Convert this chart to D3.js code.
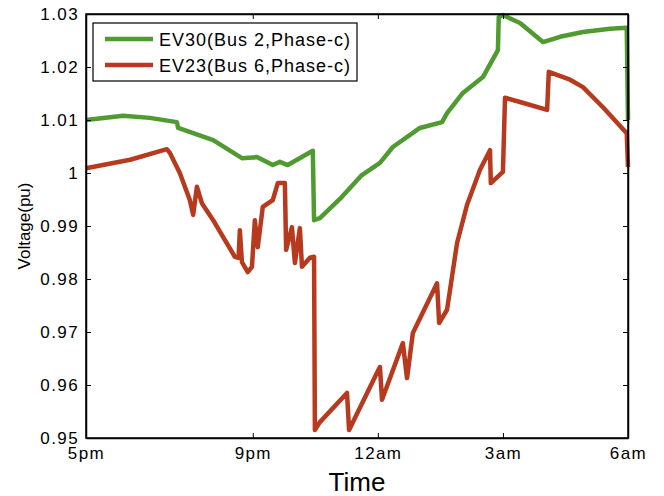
<!DOCTYPE html>
<html>
<head>
<meta charset="utf-8">
<script src="https://cdn.jsdelivr.net/npm/d3@7"></script>
<style>
  body { margin: 0; background: #fff; }
  text { font-family: "Liberation Sans", Arial, sans-serif; fill: #000; }
</style>
</head>
<body>
<script>
// hours after 5pm
var xTicks = [0, 4, 7, 10, 13];
var xTickLabels = ["5pm", "9pm", "12am", "3am", "6am"];
var yTicks = [0.95, 0.96, 0.97, 0.98, 0.99, 1, 1.01, 1.02, 1.03];

var seriesNames = ["EV30(Bus 2,Phase-c)", "EV23(Bus 6,Phase-c)"];
var seriesColors = ["#4f9b32", "#b83a1e"];

var ev30Hours = [0, 0.89, 1.53, 2.18, 2.21, 3.05, 3.74, 4.10, 4.48, 4.65, 4.84, 5.44, 5.47,
  5.61, 6.09, 6.60, 7.05, 7.36, 8.01, 8.54, 8.66, 9.04, 9.52, 9.88, 9.90, 10.0, 10.41,
  10.96, 11.37, 11.92, 12.57, 12.97, 13.0];
var ev30Volts = [1.0100, 1.0108, 1.0104, 1.0096, 1.0085, 1.0062, 1.0028, 1.0030, 1.0015,
  1.0021, 1.0015, 1.0042, 0.9911, 0.9915, 0.9951, 0.9995, 1.0019, 1.0049, 1.0085, 1.0096,
  1.0113, 1.0151, 1.0181, 1.0232, 1.0294, 1.0298, 1.0283, 1.0247, 1.0257, 1.0266, 1.0272,
  1.0274, 1.0100];

var ev23Hours = [0, 1.06, 1.94, 2.01, 2.25, 2.49, 2.57, 2.66, 2.78, 3.05, 3.29, 3.57, 3.66,
  3.69, 3.74, 3.88, 3.98, 4.05, 4.12, 4.24, 4.48, 4.60, 4.77, 4.80, 4.94, 5.01, 5.13, 5.18,
  5.37, 5.47, 5.49, 5.61, 6.26, 6.31, 6.98, 7.05, 7.10, 7.60, 7.70, 7.84, 8.42, 8.47, 8.66,
  8.90, 9.14, 9.45, 9.69, 9.71, 10.0, 10.05, 10.41, 11.06, 11.10, 11.61, 11.92, 12.40, 12.97, 13.0];
var ev23Volts = [1.0009, 1.0025, 1.0045, 1.0038, 1.0000, 0.9949, 0.9921, 0.9974, 0.9943,
  0.9911, 0.9879, 0.9842, 0.9840, 0.9892, 0.9832, 0.9813, 0.9823, 0.9911, 0.9860, 0.9936,
  0.9949, 0.9981, 0.9981, 0.9855, 0.9898, 0.9830, 0.9896, 0.9823, 0.9840, 0.9842, 0.9515,
  0.9530, 0.9585, 0.9515, 0.9623, 0.9634, 0.9572, 0.9679, 0.9613, 0.9698, 0.9792, 0.9717,
  0.9742, 0.9868, 0.9940, 1.0006, 1.0043, 0.9981, 1.0002, 1.0142, 1.0134, 1.0119, 1.0191,
  1.0176, 1.0162, 1.0124, 1.0075, 1.0011];

var width = 664, height = 496;
var margin = {top: 14, right: 36, bottom: 58, left: 86};
var w = width - margin.left - margin.right;
var h = height - margin.top - margin.bottom;

var svg = d3.select("body").append("svg")
  .attr("width", width)
  .attr("height", height);

var g = svg.append("g")
  .attr("transform", "translate(" + margin.left + "," + margin.top + ")");

var x = d3.scaleLinear().domain([0, 13]).range([0, w]);
var y = d3.scaleLinear().domain([0.95, 1.03]).range([h, 0]);

// lines
var series = [
  d3.zip(ev30Hours, ev30Volts),
  d3.zip(ev23Hours, ev23Volts)
];
var line = d3.line()
  .x(function(d) { return x(d[0]); })
  .y(function(d) { return y(d[1]); });

g.selectAll("path.series")
  .data(series)
  .enter()
  .append("path")
  .attr("class", "series")
  .attr("d", line)
  .attr("fill", "none")
  .attr("stroke", function(d, i) { return seriesColors[i]; })
  .attr("stroke-width", 4.5)
  .attr("stroke-linejoin", "round")
  .attr("stroke-linecap", "butt");

// axes, ticks inward on all sides
var xAxis = d3.axisBottom(x).tickValues(xTicks)
  .tickFormat(function(d, i) { return xTickLabels[i]; })
  .tickSizeInner(-5).tickSizeOuter(0).tickPadding(9);
var yAxis = d3.axisLeft(y).tickValues(yTicks)
  .tickFormat(function(d) { return d === 1 ? "1" : d3.format(".2f")(d); })
  .tickSizeInner(-5).tickSizeOuter(0).tickPadding(7);

var gx = g.append("g").attr("transform", "translate(0," + h + ")").call(xAxis);
var gy = g.append("g").call(yAxis);
g.append("g").call(d3.axisTop(x).tickValues(xTicks).tickFormat("").tickSizeInner(-5).tickSizeOuter(0));
g.append("g").attr("transform", "translate(" + w + ",0)")
  .call(d3.axisRight(y).tickValues(yTicks).tickFormat("").tickSizeInner(-5).tickSizeOuter(0));

svg.selectAll(".domain").attr("stroke", "#000").attr("stroke-width", 1.5);
svg.selectAll(".tick line").attr("stroke", "#000");
gx.selectAll("text").style("font-size", "17px").style("letter-spacing", "1.4px");
gy.selectAll("text").style("font-size", "17px").style("letter-spacing", "1.4px");

g.append("rect")
  .attr("width", w).attr("height", h)
  .attr("fill", "none").attr("stroke", "#000").attr("stroke-width", 1.5);

// axis titles
svg.append("text")
  .attr("x", margin.left + w / 2)
  .attr("y", 491)
  .attr("text-anchor", "middle")
  .style("font-size", "26px")
  .text("Time");

svg.append("text")
  .attr("transform", "translate(30," + (margin.top + h / 2) + ") rotate(-90)")
  .attr("text-anchor", "middle")
  .style("font-size", "17px")
  .text("Voltage(pu)");

// legend
var legend = svg.append("g").attr("transform", "translate(93,23)");
legend.append("rect")
  .attr("width", 264).attr("height", 58)
  .attr("fill", "#fff").attr("stroke", "#000").attr("stroke-width", 1.2);
var items = legend.selectAll("g.item")
  .data(seriesNames)
  .enter()
  .append("g")
  .attr("class", "item")
  .attr("transform", function(d, i) { return "translate(0," + (16 + i * 26) + ")"; });
items.append("line")
  .attr("x1", 12).attr("x2", 60)
  .attr("stroke", function(d, i) { return seriesColors[i]; })
  .attr("stroke-width", 4.5);
items.append("text")
  .attr("x", 66).attr("y", 7)
  .style("font-size", "18px")
  .style("letter-spacing", "1px")
  .text(function(d) { return d; });
</script>
</body>
</html>
